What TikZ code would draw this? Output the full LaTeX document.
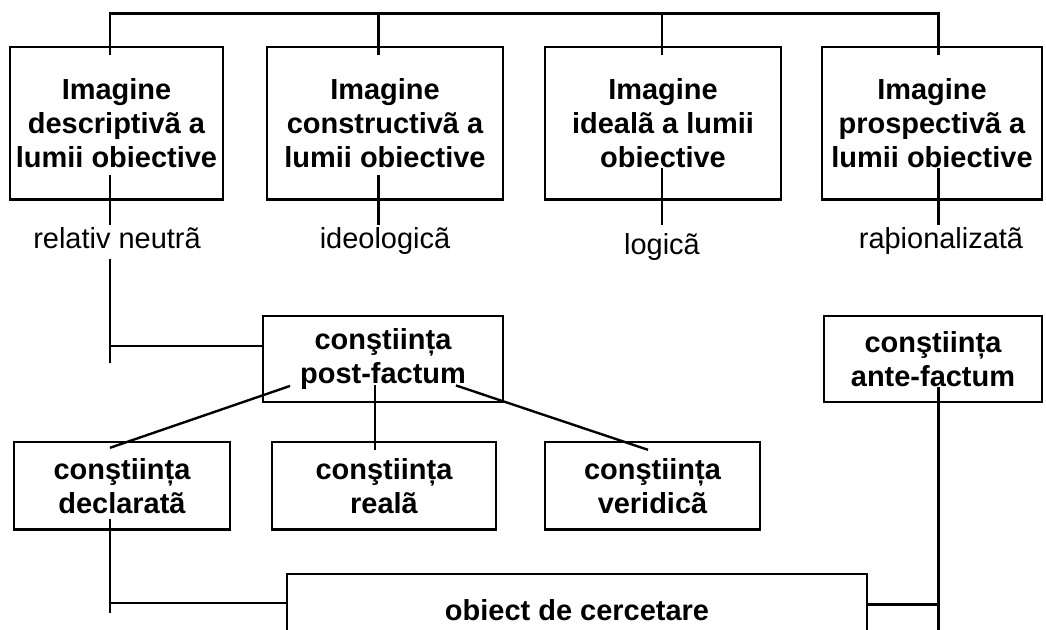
\documentclass[tikz,border=0pt]{standalone}
\usepackage{fontspec}
\setmainfont{Liberation Sans}
\usetikzlibrary{calc}
\newcommand{\dfont}{\fontsize{20.6}{24.2}\selectfont}
\newcommand{\tcomma}{\char"021B\relax}
\tikzset{font=\dfont}
\tikzset{box/.style={draw,line width=1.7pt,align=center,inner sep=0pt,font=\dfont\bfseries}}
\tikzset{lbl/.style={inner xsep=0pt,inner ysep=4.3pt,text height=0.72em,text depth=0.22em}}

\begin{document}
\begin{tikzpicture}[x=0.025cm,y=-0.025cm,line width=1.7pt]
  \useasboundingbox (0,0) rectangle (1046,630);
  \clip (0,0) rectangle (1046,630);
  % images
  \node[box,minimum width=5.325cm,minimum height=3.8125cm] (desc) at (116.5,123.25) {Imagine\\descriptivã a\\lumii obiective};
  \node[box,minimum width=5.9cm,minimum height=3.8125cm] (constr) at (385,123.25) {Imagine\\constructivã a\\lumii obiective};
  \node[box,minimum width=5.9cm,minimum height=3.8125cm] (ideal) at (663,123.25) {Imagine\\idealã a lumii\\obiective};
  \node[box,minimum width=5.5cm,minimum height=3.8125cm] (prosp) at (932,123.25) {Imagine\\prospectivã a\\lumii obiective};
  \node[lbl] (neutra) at (117,244.7) {relativ neutrã};
  \node[lbl] (ideol) at (385,244.7) {ideologicã};
  \node[lbl] (logica) at (662,250.7) {logicã};
  \node[lbl] (rational) at (941,244.7) {raþionalizatã};
  % constiinta
  \node[box,minimum width=6cm,minimum height=2.1625cm] (post) at (383,359) {conştiin\tcomma a\\post-factum};
  \node[box,minimum width=5.45cm,minimum height=2.1625cm] (ante) at (933,359) {conştiin\tcomma a\\ante-factum};
  \node[box,minimum width=5.3875cm,minimum height=2.1875cm] (decl) at (122,485.75) {conştiin\tcomma a\\declaratã};
  \node[box,minimum width=5.6cm,minimum height=2.1875cm] (reala) at (384,485.75) {conştiin\tcomma a\\realã};
  \node[box,minimum width=5.375cm,minimum height=2.1875cm] (verid) at (652.5,485.75) {conştiin\tcomma a\\veridicã};
  \node[box,minimum width=14.49cm,minimum height=1.8cm] (obiect) at (577,610) {obiect de cercetare};
  % top bar
  \coordinate (barL) at (110,13.5);
  \coordinate (barR) at (938.6,13.5);
  \coordinate (lt) at (0,225);
  \draw (barL) -- (barR);
  \foreach \n/\dx in {desc/-6.5,constr/-6.4,ideal/-1,prosp/6.6}
    \draw ($(\n.north)+(\dx,9)$) -- ++(0,-42.5);
  \draw ($(desc.south)+(-6.5,-25.5)$) coordinate (s1) -- (s1 |- lt);
  \draw ($(constr.south)+(-6.4,-25.5)$) coordinate (s2) -- (s2 |- lt);
  \draw ($(ideal.south)+(-1,-32.5)$) coordinate (s3) -- (s3 |- lt);
  \draw ($(prosp.south)+(6.6,-32.5)$) coordinate (s4) -- (s4 |- lt);
  % post-factum
  \coordinate (j1) at (110,363);
  \draw (s1 |- neutra.south) -- (j1);
  \draw ($(post.west)+(0,-13)$) coordinate (h1) -- (h1 -| j1);
  \draw ($(post.south)+(-93,-17.5)$) -- ($(decl.north)+(-12,7)$);
  \draw ($(post.south)+(-8,-18)$) -- ($(reala.north)+(-9,9)$);
  \draw ($(post.south)+(73,-18)$) -- ($(verid.north)+(-4.5,9)$);
  % obiect
  \coordinate (j2) at (110,613);
  \draw ($(decl.south)+(-12,-11.5)$) -- (j2);
  \draw ($(obiect.west)+(0,-7)$) coordinate (h2) -- (h2 -| j2);
  \draw ($(ante.south)+(5.6,-16.5)$) coordinate (s5) -- ++(0,260);
  \draw ($(obiect.east)+(0,-5.5)$) coordinate (h3) -- (h3 -| s5);
\end{tikzpicture}
\end{document}
